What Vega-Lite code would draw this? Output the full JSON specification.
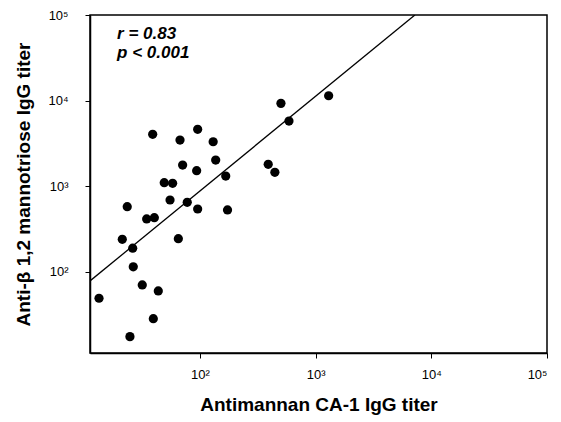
{
  "$schema": "https://vega.github.io/schema/vega-lite/v6.json",
  "width": 457,
  "height": 338,
  "autosize": {"type": "none"},
  "padding": {"left": 90, "top": 15, "right": 14, "bottom": 69},
  "background": "white",
  "config": {
    "font": "Liberation Sans",
    "view": {"stroke": "black", "strokeWidth": 1.5},
    "axis": {
      "grid": false,
      "domainColor": "black",
      "domainWidth": 1.5,
      "tickColor": "black",
      "tickSize": 5,
      "labelFont": "Liberation Sans",
      "labelFontSize": 13,
      "labelColor": "black",
      "titleFont": "Liberation Sans",
      "titleFontSize": 19,
      "titleFontWeight": "bold",
      "titleColor": "black"
    }
  },
  "datasets": {
    "points": [
      {"x": 13.4, "y": 48.9}, {"x": 24.8, "y": 17.4}, {"x": 39.5, "y": 28.2},
      {"x": 31.7, "y": 70}, {"x": 43.6, "y": 59.5}, {"x": 26.5, "y": 114},
      {"x": 26.2, "y": 188}, {"x": 21.3, "y": 239}, {"x": 65, "y": 243},
      {"x": 23.5, "y": 574}, {"x": 34.6, "y": 413}, {"x": 40.3, "y": 427},
      {"x": 55.1, "y": 688}, {"x": 77.6, "y": 647}, {"x": 95.5, "y": 540},
      {"x": 173, "y": 526}, {"x": 49.1, "y": 1096}, {"x": 58, "y": 1079},
      {"x": 39, "y": 4030}, {"x": 67.2, "y": 3456}, {"x": 95.5, "y": 4613},
      {"x": 130, "y": 3300}, {"x": 70.8, "y": 1763}, {"x": 93.6, "y": 1514},
      {"x": 136.7, "y": 2018}, {"x": 167, "y": 1312}, {"x": 389, "y": 1800},
      {"x": 444, "y": 1448}, {"x": 501, "y": 9270}, {"x": 588, "y": 5760},
      {"x": 1295, "y": 11380}
    ],
    "fit": [{"x": 11.2, "y": 77.9}, {"x": 7210, "y": 100000}],
    "notes": [
      {"x": 19.2, "y": 60700, "label": "r = 0.83"},
      {"x": 19.2, "y": 35900, "label": "p < 0.001"}
    ]
  },
  "layer": [
    {
      "data": {"name": "fit"},
      "mark": {"type": "line", "color": "black", "strokeWidth": 1.3, "clip": true},
      "encoding": {
        "x": {"field": "x", "type": "quantitative"},
        "y": {"field": "y", "type": "quantitative"}
      }
    },
    {
      "data": {"name": "points"},
      "mark": {"type": "circle", "color": "black", "opacity": 1, "size": 85},
      "encoding": {
        "x": {
          "field": "x", "type": "quantitative",
          "scale": {"type": "log", "domain": [11.2, 100000], "nice": false},
          "axis": {
            "title": "Antimannan CA-1 IgG titer",
            "values": [100, 1000, 10000, 100000],
            "labelExpr": "'10' + (datum.value == 100 ? '²' : datum.value == 1000 ? '³' : datum.value == 10000 ? '⁴' : '⁵')",
            "labelPadding": 10,
            "titlePadding": 14
          }
        },
        "y": {
          "field": "y", "type": "quantitative",
          "scale": {"type": "log", "domain": [11.2, 100000], "nice": false},
          "axis": {
            "title": "Anti-β 1,2 mannotriose IgG titer",
            "values": [100, 1000, 10000, 100000],
            "labelExpr": "'10' + (datum.value == 100 ? '²' : datum.value == 1000 ? '³' : datum.value == 10000 ? '⁴' : '⁵')",
            "labelPadding": 17,
            "titlePadding": 14
          }
        }
      }
    },
    {
      "data": {"name": "notes"},
      "mark": {"type": "text", "align": "left", "baseline": "middle", "fontSize": 17, "fontWeight": "bold", "fontStyle": "italic", "color": "black"},
      "encoding": {
        "x": {"field": "x", "type": "quantitative"},
        "y": {"field": "y", "type": "quantitative"},
        "text": {"field": "label"}
      }
    }
  ]
}
